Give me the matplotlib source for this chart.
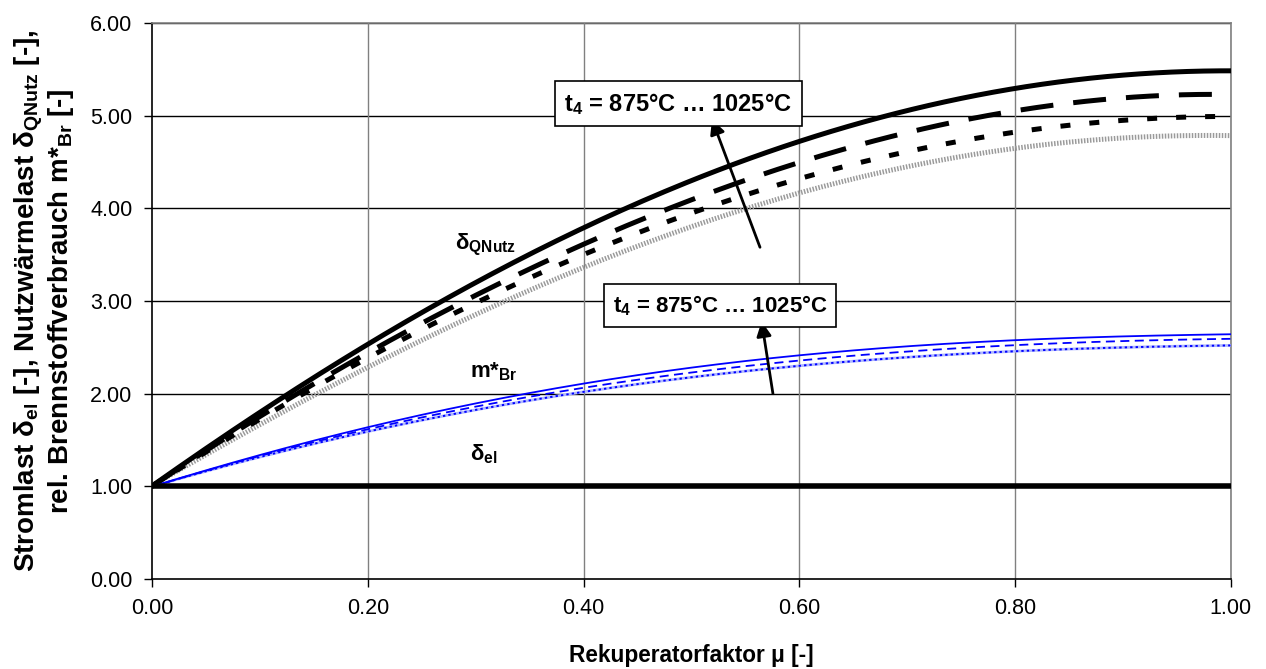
import matplotlib
matplotlib.use("Agg")
import matplotlib.pyplot as plt
import numpy as np

plt.rcParams["font.family"] = ["Liberation Sans", "DejaVu Sans"]
plt.rcParams["mathtext.fontset"] = "custom"
plt.rcParams["mathtext.rm"] = "Liberation Sans:bold"
plt.rcParams["mathtext.it"] = "Liberation Sans:bold"
plt.rcParams["mathtext.bf"] = "Liberation Sans:bold"
plt.rcParams["mathtext.sf"] = "Liberation Sans:bold"

# Recuperator factor
mu = [0.0, 0.1, 0.2, 0.3, 0.4, 0.5, 0.6, 0.7, 0.8, 0.9, 1.0]

# Useful heat load delta_QNutz for t4 = 1025 / 975 / 925 / 875 °C
q_1025 = [1.00, 1.80, 2.55, 3.20, 3.77, 4.28, 4.74, 5.08, 5.30, 5.40, 5.50]
q_975 = [1.00, 1.75, 2.45, 3.07, 3.60, 4.08, 4.50, 4.83, 5.07, 5.16, 5.24]
q_925 = [1.00, 1.72, 2.40, 2.98, 3.49, 3.94, 4.33, 4.62, 4.83, 4.93, 5.00]
q_875 = [1.00, 1.68, 2.30, 2.85, 3.33, 3.79, 4.20, 4.47, 4.64, 4.73, 4.80]

# Relative fuel consumption m*_Br
m_1025 = [1.00, 1.33, 1.64, 1.90, 2.11, 2.28, 2.41, 2.51, 2.58, 2.62, 2.64]
m_950 = [1.00, 1.32, 1.62, 1.86, 2.07, 2.23, 2.35, 2.45, 2.53, 2.57, 2.59]
m_875 = [1.00, 1.31, 1.60, 1.82, 2.02, 2.18, 2.30, 2.39, 2.46, 2.50, 2.52]

# Electric load delta_el
el = [1.00] * len(mu)

x_ticks = [0.0, 0.2, 0.4, 0.6, 0.8, 1.0]
y_ticks = [0, 1, 2, 3, 4, 5, 6]

fig = plt.figure(figsize=(12.66, 6.69), dpi=100)
ax = fig.add_axes([0.1201, 0.1345, 0.8522, 0.8311])

mu_f = np.linspace(0, 1, 201)
def smooth(y):
    c = np.polyfit(mu, y, 4)
    return np.polyval(c, mu_f)

lw_q = 3.6
ax.plot(mu_f, smooth(q_875), color="#9a9a9a", lw=lw_q, dashes=(0.3, 0.3), zorder=3)
ax.plot(mu_f, smooth(q_925), color="black", lw=lw_q, dashes=(2.0, 3.8), zorder=4)
ax.plot(mu_f, smooth(q_975), color="black", lw=lw_q, dashes=(6.6, 4.0), zorder=4)
ax.plot(mu_f, smooth(q_1025), color="black", lw=lw_q, zorder=5)

ax.plot(mu_f, smooth(m_875), color="#b0b8ff", lw=2.0, zorder=3)
ax.plot(mu_f, smooth(m_875), color="#0000ff", lw=1.4, dashes=(1.2, 1.6), zorder=3)
ax.plot(mu_f, smooth(m_950), color="#0000ff", lw=1.3, dashes=(5, 3), zorder=4)
ax.plot(mu_f, smooth(m_1025), color="#0000ff", lw=1.3, zorder=5)

ax.plot(mu, el, color="black", lw=4.0, zorder=6)

ax.set_xlim(0, 1)
ax.set_ylim(0, 6)
ax.set_xticks(x_ticks)
ax.set_yticks(y_ticks)
ax.set_xticklabels([f"{v:.2f}" for v in x_ticks])
ax.set_yticklabels([f"{v:.2f}" for v in y_ticks])
ax.tick_params(labelsize=15.5, length=6, width=1, direction="out", pad=8)

for v in y_ticks[1:]:
    ax.axhline(v, color="black", lw=1.0, zorder=1)
for v in x_ticks[1:]:
    ax.axvline(v, color="#808080", lw=1.0, zorder=1)

ax.spines["left"].set_color("black")
ax.spines["bottom"].set_color("black")
ax.spines["top"].set_color("#808080")
ax.spines["right"].set_color("#808080")
for s in ax.spines.values():
    s.set_linewidth(1.2)

ax.set_xlabel("Rekuperatorfaktor μ [-]", fontsize=16.3, fontweight="bold", labelpad=18)
ax.set_ylabel("Stromlast δ$_{\\rm el}$ [-], Nutzwärmelast δ$_{\\rm QNutz}$ [-],\nrel. Brennstoffverbrauch m*$_{\\rm Br}$ [-]",
              fontsize=20, fontweight="bold", labelpad=10, linespacing=1.05)

# curve labels
ax.text(0.281, 3.60, "δ$_{\\rm QNutz}$", fontsize=16, fontweight="bold", ha="left", va="center")
ax.text(0.295, 2.24, "m*$_{\\rm Br}$", fontsize=16, fontweight="bold", ha="left", va="center")
ax.text(0.295, 1.35, "δ$_{\\rm el}$", fontsize=16, fontweight="bold", ha="left", va="center")

# temperature range annotations
box = dict(boxstyle="square,pad=0.4", fc="white", ec="black", lw=1.2)
ax.text(0.382, 5.13, "t$_4$ = 875°C … 1025°C", fontsize=17, fontweight="bold",
        ha="left", va="center", bbox=box, zorder=10)
ax.annotate("", xy=(0.519, 4.96), xytext=(0.5635, 3.58),
            arrowprops=dict(arrowstyle="-|>", color="black", lw=2, mutation_scale=22,
                            shrinkA=0, shrinkB=0), zorder=9)
ax.text(0.427, 2.95, "t$_4$ = 875°C … 1025°C", fontsize=16, fontweight="bold",
        ha="left", va="center", bbox=box, zorder=10)
ax.annotate("", xy=(0.565, 2.78), xytext=(0.5755, 2.0),
            arrowprops=dict(arrowstyle="-|>", color="black", lw=2, mutation_scale=22,
                            shrinkA=0, shrinkB=0), zorder=9)

fig.savefig("out.png", dpi=100)
